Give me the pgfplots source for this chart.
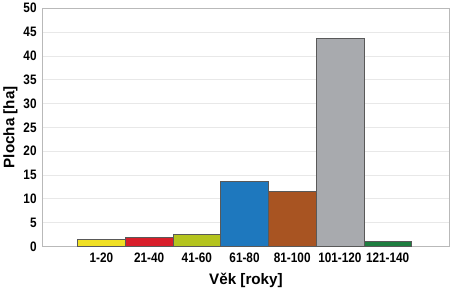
\documentclass[border=0pt]{standalone}
\usepackage{fontspec}
\setmainfont{Liberation Sans}
\usepackage{graphicx}
\usepackage{pgfplots}
\pgfplotsset{compat=1.18}
\definecolor{cY}{HTML}{F0E024}
\definecolor{cR}{HTML}{D81E2A}
\definecolor{cYG}{HTML}{B4C41E}
\definecolor{cB}{HTML}{1E78BE}
\definecolor{cBr}{HTML}{A85422}
\definecolor{cG}{HTML}{A8AAAE}
\definecolor{cGr}{HTML}{1E7E40}
\newcommand{\nar}[1]{\scalebox{0.86}[1]{#1}}
\begin{document}
\begin{tikzpicture}
\begin{axis}[
  width=402pt, height=235pt, scale only axis,
  ybar, bar width=1, bar shift=0pt,
  xmin=-1.24, xmax=7.3, ymin=0, ymax=50,
  xtick={0,...,6},
  xticklabels={\nar{1-20},\nar{21-40},\nar{41-60},\nar{61-80},\nar{81-100},\nar{101-120},\nar{121-140}},
  ytick={0,5,...,50},
  yticklabel={\nar{\pgfmathprintnumber{\tick}}},
  ymajorgrids, grid style={draw=gray!18, line width=0.6pt},
  axis line style={draw=gray!55, line width=0.6pt},
  major tick length=0pt,
  tick label style={font=\bfseries\fontsize{13.5}{15}\selectfont},
  xticklabel style={yshift=-3pt},
  yticklabel style={xshift=-2pt},
  /pgf/number format/assume math mode=true,
  xlabel={Věk [roky]}, ylabel={Plocha [ha]},
  label style={font=\bfseries\fontsize{15}{17}\selectfont},
  xlabel style={yshift=-3pt},
  ylabel style={yshift=-1pt},
  every axis plot/.append style={draw=black!65, line width=0.5pt},
]
\addplot[fill=cY] coordinates {(0,1.6)};
\addplot[fill=cR] coordinates {(1,2.0)};
\addplot[fill=cYG] coordinates {(2,2.55)};
\addplot[fill=cB] coordinates {(3,13.7)};
\addplot[fill=cBr] coordinates {(4,11.6)};
\addplot[fill=cG] coordinates {(5,43.6)};
\addplot[fill=cGr] coordinates {(6,1.0)};
\end{axis}
\end{tikzpicture}
\end{document}
